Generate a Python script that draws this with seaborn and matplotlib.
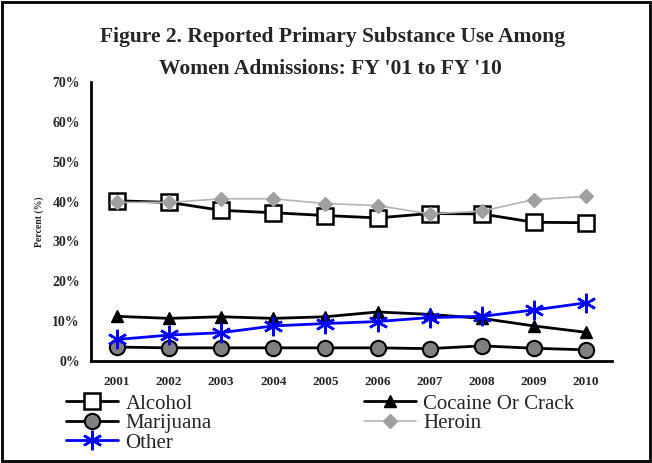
"""
Figure 2: reported primary substance use among women admissions, FY'01 - FY'10.
"""

import matplotlib
matplotlib.use("Agg")
import matplotlib.pyplot as plt
import numpy as np
import pandas as pd
import seaborn as sns
from matplotlib.patches import Rectangle
from matplotlib.ticker import FixedLocator, FuncFormatter

YEARS = ["2001", "2002", "2003", "2004", "2005", "2006", "2007", "2008", "2009", "2010"]

ALCOHOL = [40.2, 39.8, 37.8, 37.2, 36.5, 35.9, 37.0, 36.9, 34.8, 34.7]
COCAINE = [11.2, 10.7, 11.1, 10.7, 11.1, 12.3, 11.7, 10.7, 8.8, 7.2]
MARIJUANA = [3.5, 3.3, 3.3, 3.3, 3.3, 3.3, 3.1, 3.8, 3.2, 2.8]
HEROIN = [39.8, 39.8, 40.7, 40.7, 39.5, 39.0, 36.9, 37.6, 40.5, 41.3]
OTHER = [5.4, 6.5, 7.1, 8.8, 9.4, 9.9, 10.9, 11.2, 12.8, 14.6]

SERIES = ["Alcohol", "Cocaine Or Crack", "Marijuana", "Heroin", "Other"]
VALUES = [ALCOHOL, COCAINE, MARIJUANA, HEROIN, OTHER]

STYLES = {
    "Alcohol": dict(color="black", lw=2.0, marker="s", ms=11, mfc="white", mec="black", mew=1.8),
    "Cocaine Or Crack": dict(color="black", lw=2.0, marker="^", ms=9, mfc="black", mec="black", mew=1),
    "Marijuana": dict(color="black", lw=2.0, marker="o", ms=11, mfc="#808080", mec="black", mew=1.5),
    "Heroin": dict(color="#b4b4b4", lw=1.2, marker="D", ms=7, mfc="#a0a0a0", mec="#a0a0a0", mew=1),
    "Other": dict(color="#0000ff", lw=2.0, marker=(6, 2, 0), ms=14, mfc="#0000ff", mec="#0000ff", mew=1.8),
}

# legend reads row by row in the reference; matplotlib fills columns first
LEGEND_ORDER = ["Alcohol", "Marijuana", "Other", "Cocaine Or Crack", "Heroin"]


def main():
    sns.set_style("white")
    plt.rcParams["font.family"] = ["Liberation Serif", "DejaVu Serif"]

    fig = plt.figure(figsize=(6.52, 4.63), dpi=100)
    ax = fig.add_axes([91 / 652, 1 - 361 / 463, 521 / 652, 279 / 463])

    xs = np.arange(len(YEARS))
    for name, vals in zip(SERIES, VALUES):
        df = pd.DataFrame({"x": xs, "y": vals})
        st = STYLES[name]
        sns.lineplot(
            data=df, x="x", y="y", ax=ax, label=name,
            color=st["color"], linewidth=st["lw"], marker=st["marker"],
            markersize=st["ms"], markerfacecolor=st["mfc"],
            markeredgecolor=st["mec"], markeredgewidth=st["mew"],
            legend=False, clip_on=False,
        )

    ax.set_xlim(-0.5, len(YEARS) - 0.5)
    ax.set_ylim(0, 70)
    ax.yaxis.set_major_locator(FixedLocator(np.arange(0, 71, 10)))
    ax.yaxis.set_major_formatter(FuncFormatter(lambda v, _: f"{int(v)}%"))
    ax.set_xticks(xs)
    ax.set_xticklabels(YEARS)
    ax.set_xticks(np.arange(-0.5, len(YEARS), 1.0), minor=True)
    ax.tick_params(axis="x", which="major", length=0, pad=11, labelsize=9.5)
    ax.tick_params(axis="x", which="minor", length=5, width=1.5, direction="out")
    ax.tick_params(axis="y", length=5, width=1.5, direction="out", labelsize=10, pad=3)
    for lab in ax.get_xticklabels() + ax.get_yticklabels():
        lab.set_fontweight("bold")

    for side in ["top", "right"]:
        ax.spines[side].set_visible(False)
    for side in ["left", "bottom"]:
        ax.spines[side].set_linewidth(2)
        ax.spines[side].set_color("black")

    ax.set_xlabel("")
    ax.set_ylabel("Percent (%)", fontsize=7, fontweight="bold", labelpad=6)

    fig.text(0.51, 1 - 37 / 463, "Figure 2. Reported Primary Substance Use Among",
             ha="center", va="center", fontsize=15.5, fontweight="bold")
    fig.text(0.507, 1 - 69 / 463, "Women Admissions: FY '01 to FY '10",
             ha="center", va="center", fontsize=15.5, fontweight="bold")

    handles, labels = ax.get_legend_handles_labels()
    lookup = dict(zip(labels, handles))
    fig.legend(
        [lookup[n] for n in LEGEND_ORDER], LEGEND_ORDER, ncol=2, loc="upper left",
        bbox_to_anchor=(66 / 652, 1 - 394 / 463), frameon=False,
        fontsize=15, handlelength=2.5, handletextpad=0.35,
        columnspacing=7.3, labelspacing=0.0, borderaxespad=0, borderpad=0,
    )

    fig.patches.append(Rectangle((0.003, 0.004), 0.994, 0.992, transform=fig.transFigure,
                                 fill=False, edgecolor="black", linewidth=2))

    fig.savefig("out.png", dpi=100)
    plt.close(fig)


if __name__ == "__main__":
    main()
